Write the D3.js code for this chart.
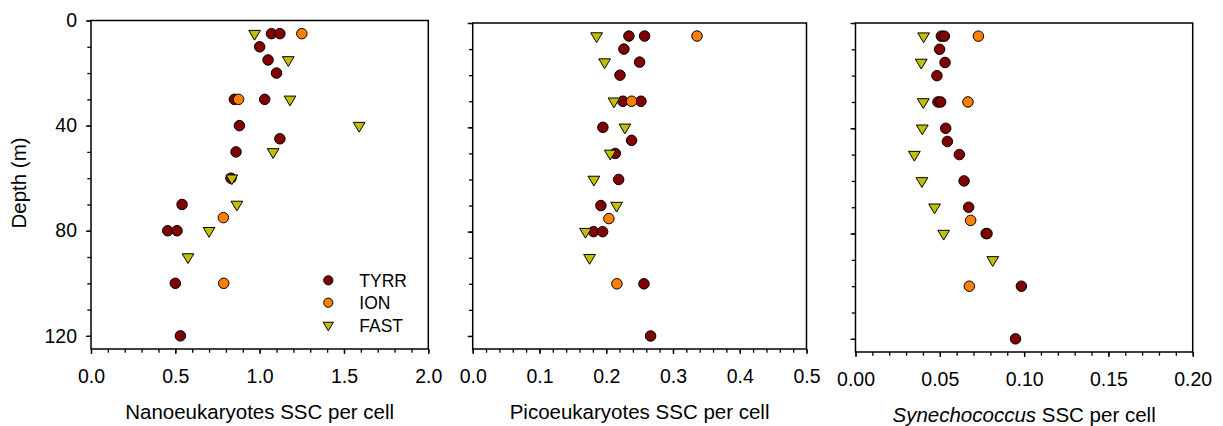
<!DOCTYPE html>
<html>
<head>
<meta charset="utf-8">
<script src="https://cdn.jsdelivr.net/npm/d3@7"></script>
<style>
  body { margin: 0; background: #fff; }
  text { font-family: "Liberation Sans", Arial, sans-serif; fill: #000; }
</style>
</head>
<body>
<div id="chart"></div>
<script>
// each point: [depth (m), SSC per cell]
var nanoTYRR = [[5,1.07],[5,1.12],[10,1.0],[15,1.05],[20,1.10],[30,0.85],[30,1.03],[40,0.88],[45,1.12],[50,0.86],[60,0.83],[70,0.54],[80,0.455],[80,0.51],[100,0.50],[120,0.53]];
var nanoION  = [[5,1.25],[30,0.875],[75,0.785],[100,0.787]];
var nanoFAST = [[5,0.97],[15,1.17],[30,1.18],[40,1.59],[50,1.08],[60,0.835],[70,0.865],[80,0.70],[90,0.575]];

var picoTYRR = [[5,0.234],[5,0.2575],[10,0.2265],[15,0.25],[20,0.2206],[30,0.225],[30,0.252],[40,0.195],[45,0.238],[50,0.2136],[60,0.2186],[70,0.192],[80,0.181],[80,0.1946],[100,0.2565],[120,0.2665]];
var picoION  = [[5,0.336],[30,0.238],[75,0.204],[100,0.216]];
var picoFAST = [[5,0.1856],[15,0.1976],[30,0.2116],[40,0.228],[50,0.206],[60,0.1816],[70,0.2156],[80,0.169],[90,0.175]];

var synTYRR = [[5,0.0509],[5,0.0527],[10,0.0499],[15,0.0531],[20,0.0483],[30,0.0489],[30,0.0505],[40,0.0535],[45,0.0545],[50,0.0616],[60,0.0644],[70,0.0671],[80,0.0775],[80,0.078],[100,0.0984],[120,0.0949]];
var synION  = [[5,0.0729],[30,0.0667],[75,0.0683],[100,0.0675]];
var synFAST = [[5,0.0404],[15,0.039],[30,0.0402],[40,0.0396],[50,0.0349],[60,0.0394],[70,0.0469],[80,0.0523],[90,0.0814]];

var seriesNames = ["TYRR", "ION", "FAST"];
var depthMajor = [0, 40, 80, 120];
var depthMinor = [0, 10, 20, 30, 40, 50, 60, 70, 80, 90, 100, 110, 120];

var colors = { TYRR: "#800000", ION: "#ff8000", FAST: "#c0c000" };

var panels = [
  { left: 91, right: 428.3, top: 20.5, bottom: 349, xmax: 2.0, major: 0.5, fmt: ".1f",
    title: ["", "Nanoeukaryotes SSC per cell"], data: [nanoTYRR, nanoION, nanoFAST], yLabels: true, legend: true },
  { left: 472.7, right: 806.5, top: 23, bottom: 349, xmax: 0.5, major: 0.1, fmt: ".1f",
    title: ["", "Picoeukaryotes SSC per cell"], data: [picoTYRR, picoION, picoFAST] },
  { left: 855.5, right: 1192.7, top: 23, bottom: 352, xmax: 0.20, major: 0.05, fmt: ".2f",
    title: ["Synechococcus", " SSC per cell"], data: [synTYRR, synION, synFAST] }
];

var svg = d3.select("#chart").append("svg")
  .attr("width", 1223)
  .attr("height", 426);

function triangle(s) {
  // downward triangle, centroid at the point
  return "M" + (-5.6 * s) + "," + (-3.1 * s) + "L" + (5.6 * s) + "," + (-3.1 * s) + "L0," + (6.2 * s) + "Z";
}

function marker(sel, name, s) {
  if (name === "FAST") {
    sel.append("path").attr("d", triangle(s))
      .attr("fill", colors[name]).attr("stroke", "#000").attr("stroke-width", 1);
  } else {
    sel.append("circle").attr("r", 5 * s)
      .attr("fill", colors[name]).attr("stroke", "#000").attr("stroke-width", 1);
  }
}

panels.forEach(function(p) {
  var x = d3.scaleLinear().domain([0, p.xmax]).range([p.left, p.right]);
  var y = d3.scaleLinear().domain([0, 125]).range([p.top, p.bottom]);

  var nMaj = Math.round(p.xmax / p.major);
  var xMajor = d3.range(nMaj + 1).map(function(i) { return i * p.major; });
  var xMinor = d3.range(nMaj * 5 + 1).map(function(i) { return i * p.major / 5; });

  var g = svg.append("g");

  // minor ticks
  g.append("g").attr("transform", "translate(0," + p.bottom + ")")
    .call(d3.axisBottom(x).tickValues(xMinor).tickSize(3.7).tickSizeOuter(0).tickFormat(""))
    .call(function(a) { a.select(".domain").remove(); });
  g.append("g").attr("transform", "translate(" + p.left + ",0)")
    .call(d3.axisLeft(y).tickValues(depthMinor).tickSize(3.7).tickSizeOuter(0).tickFormat(""))
    .call(function(a) { a.select(".domain").remove(); });

  // major ticks + labels
  var xa = g.append("g").attr("transform", "translate(0," + p.bottom + ")")
    .call(d3.axisBottom(x).tickValues(xMajor).tickSize(5).tickSizeOuter(0).tickPadding(15).tickFormat(d3.format(p.fmt)));
  xa.select(".domain").remove();
  xa.selectAll("text").style("font-size", "19.5px");

  var ya = g.append("g").attr("transform", "translate(" + p.left + ",0)")
    .call(d3.axisLeft(y).tickValues(depthMajor).tickSize(5).tickSizeOuter(0).tickPadding(9)
      .tickFormat(p.yLabels ? d3.format("d") : ""));
  ya.select(".domain").remove();
  ya.selectAll("text").style("font-size", "19.5px");

  g.selectAll(".tick line").attr("stroke", "#000").attr("stroke-width", 1.3);

  // frame
  g.append("rect")
    .attr("x", p.left).attr("y", p.top)
    .attr("width", p.right - p.left).attr("height", p.bottom - p.top)
    .attr("fill", "none").attr("stroke", "#000").attr("stroke-width", 1.5);

  // points
  p.data.forEach(function(series, i) {
    var name = seriesNames[i];
    g.selectAll(".pt-" + name).data(series).enter().append("g")
      .attr("class", "pt-" + name)
      .attr("transform", function(d) { return "translate(" + x(d[1]) + "," + y(d[0]) + ")"; })
      .each(function() { marker(d3.select(this), name, 1.05); });
  });

  // x title
  var t = g.append("text")
    .attr("x", (p.left + p.right) / 2)
    .attr("y", p.bottom + 69.5)
    .attr("text-anchor", "middle")
    .style("font-size", "20.5px");
  if (p.title[0]) t.append("tspan").style("font-style", "italic").text(p.title[0]);
  t.append("tspan").text(p.title[1]);

  if (p.legend) {
    var lg = g.append("g");
    seriesNames.forEach(function(name, i) {
      var row = lg.append("g").attr("transform", "translate(328.3," + (280.3 + i * 22.4) + ")");
      marker(row, name, 0.92);
      row.append("text").attr("x", 31).attr("y", 6.4)
        .style("font-size", "17.5px").text(name);
    });
  }
});

svg.append("text")
  .attr("transform", "translate(26,183) rotate(-90)")
  .attr("text-anchor", "middle")
  .style("font-size", "20.5px")
  .text("Depth (m)");
</script>
</body>
</html>
